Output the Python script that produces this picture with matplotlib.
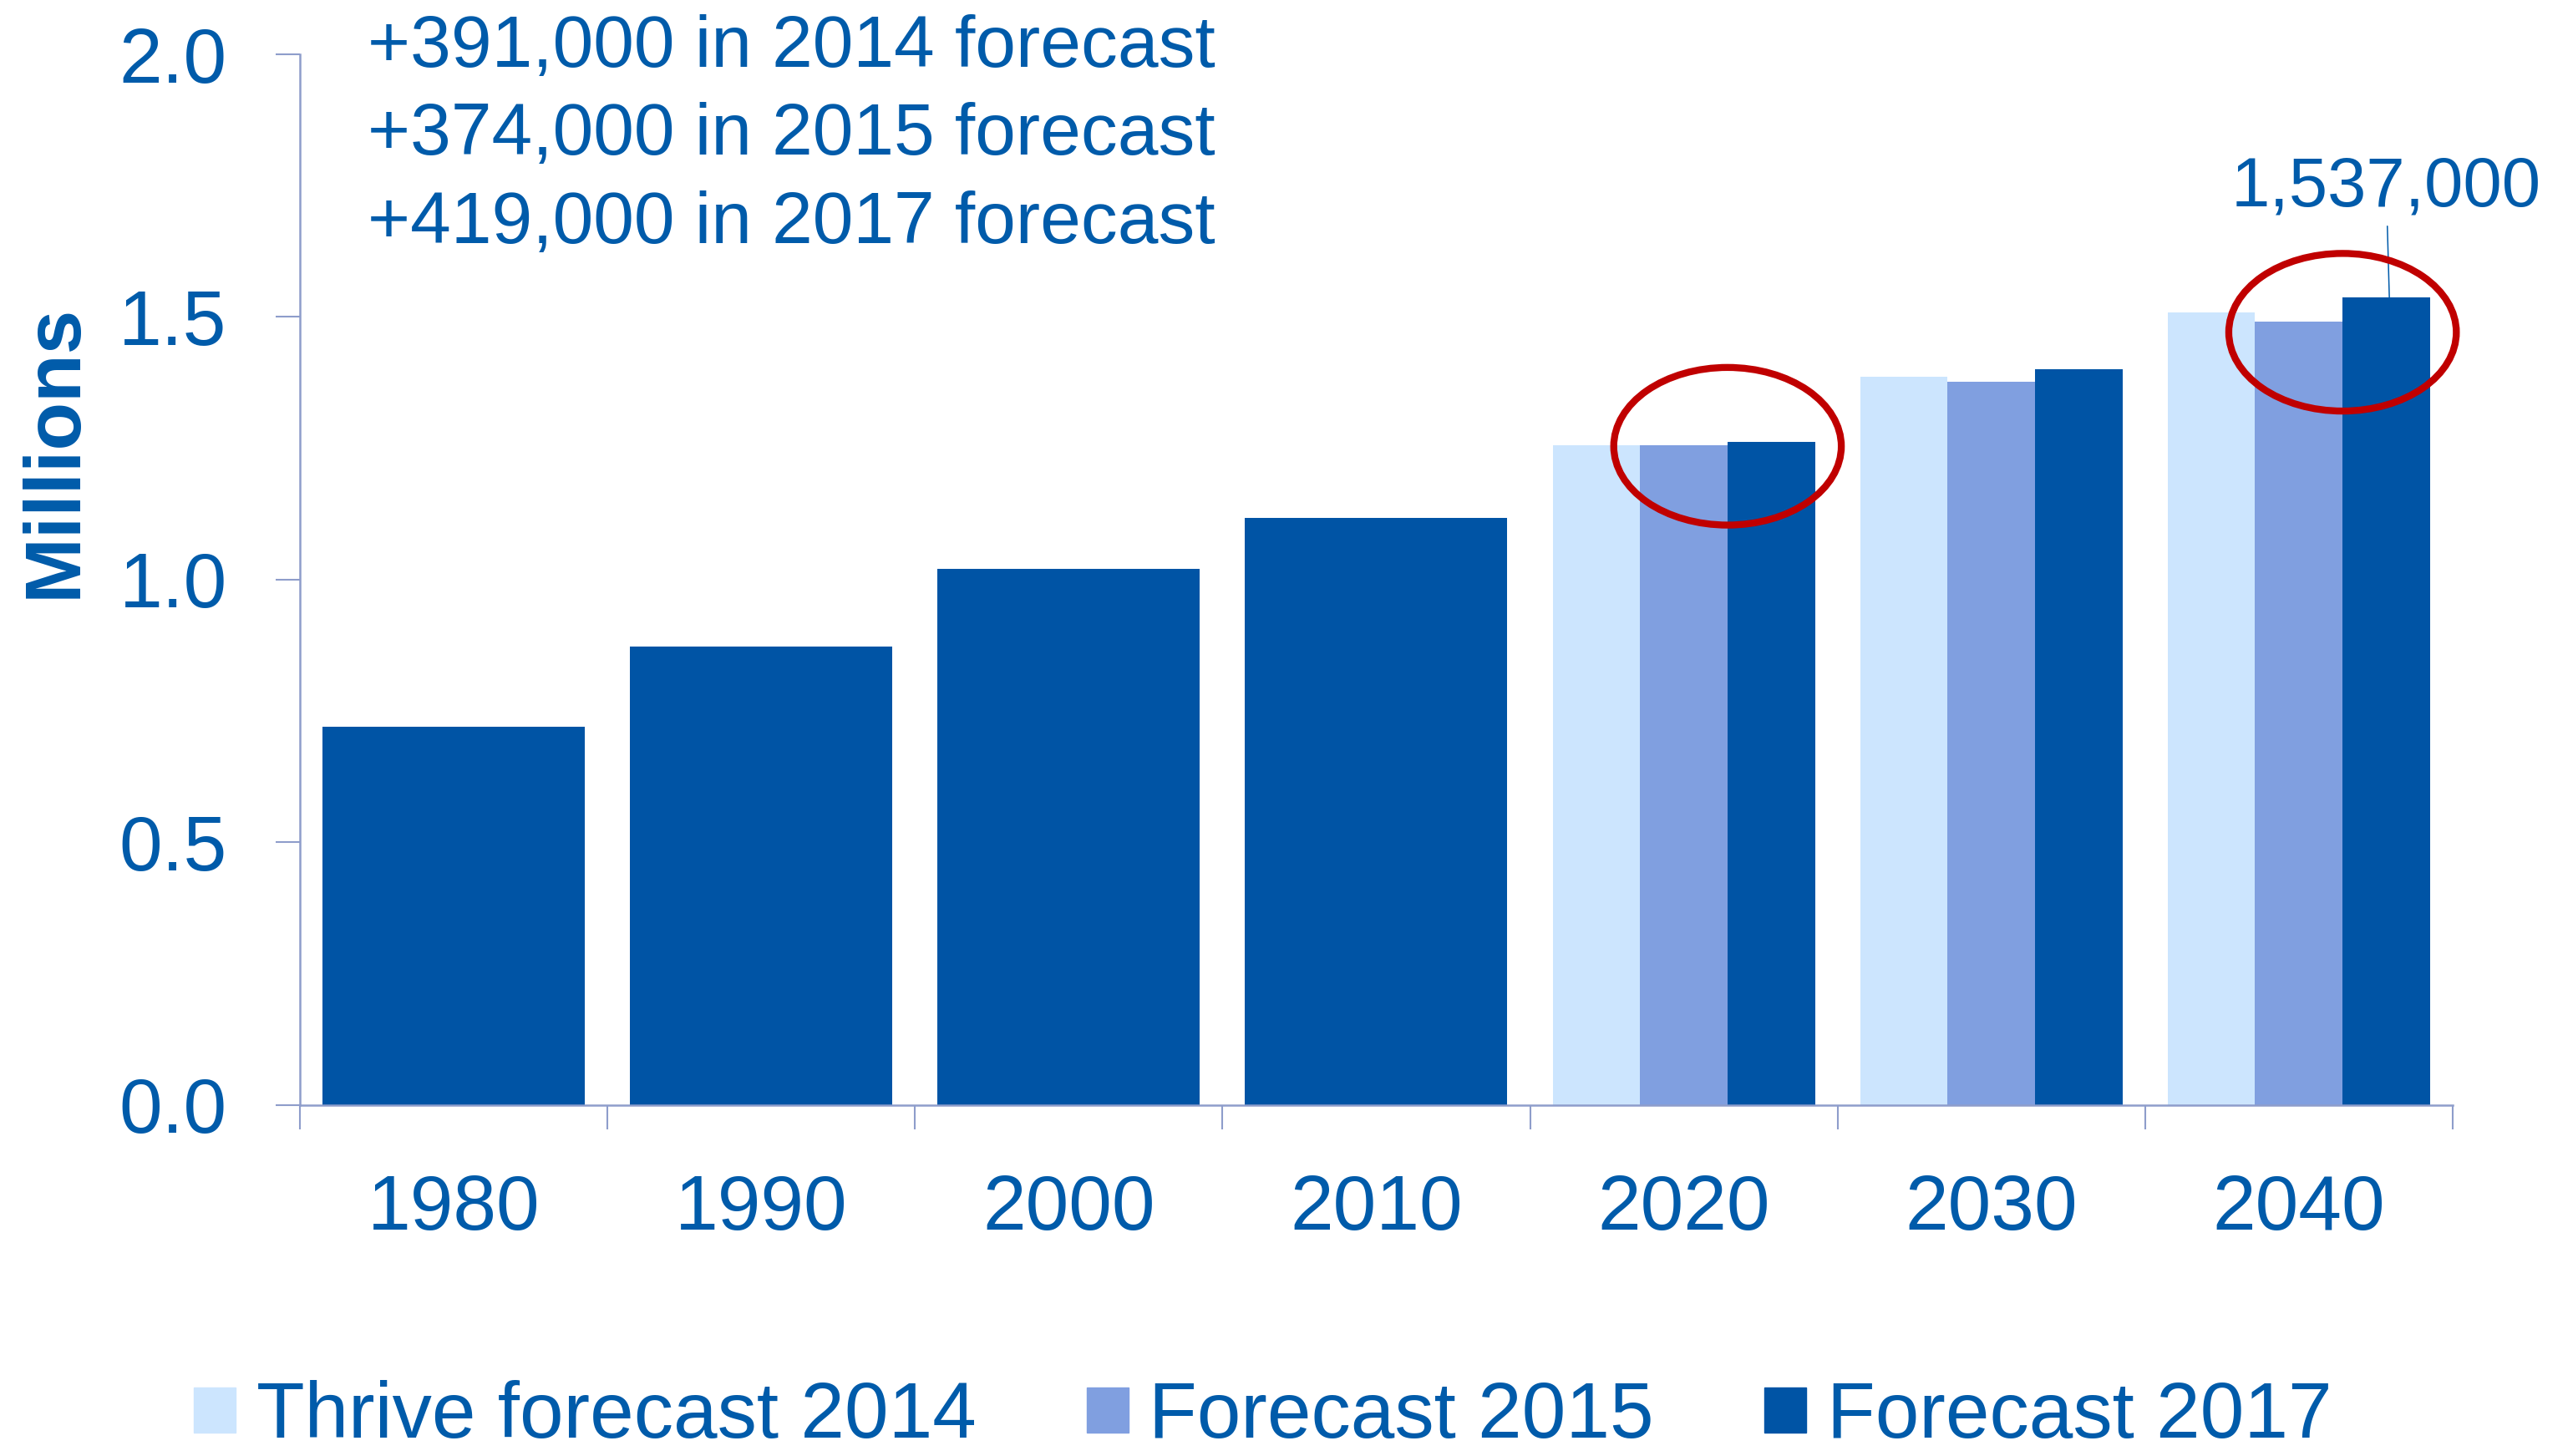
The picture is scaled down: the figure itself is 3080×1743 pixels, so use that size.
import numpy as np
import matplotlib.pyplot as plt
from matplotlib.patches import Ellipse, Patch

plt.rcParams['font.family'] = ['Liberation Sans', 'DejaVu Sans']

# data (millions)
hist_years = ['1980', '1990', '2000', '2010']
hist_values = [0.720, 0.873, 1.021, 1.118]

fc_years = ['2020', '2030', '2040']
thrive_2014 = [1.256, 1.386, 1.509]
forecast_2015 = [1.256, 1.377, 1.492]
forecast_2017 = [1.262, 1.401, 1.537]

series_names = ['Thrive forecast 2014', 'Forecast 2015', 'Forecast 2017']
growth = [391000, 374000, 419000]
growth_vintage = [2014, 2015, 2017]

yticks = [0.0, 0.5, 1.0, 1.5, 2.0]

light = '#CCE5FE'
mid = '#809FE0'
dark = '#0054A5'
txt = '#005BAA'
axcol = '#8E9DCB'
red = '#C00000'

fig = plt.figure(figsize=(30.8, 17.43), dpi=100)
ax = fig.add_axes([0.1166, 0.241, 0.8366, 0.7217])

years = hist_years + fc_years
x_hist = np.arange(len(hist_years))
x_fc = np.arange(len(hist_years), len(years))
full_w = 0.853
sub_w = full_w / 3

ax.bar(x_hist, hist_values, width=full_w, color=dark)
ax.bar(x_fc - sub_w, thrive_2014, width=sub_w, color=light)
ax.bar(x_fc, forecast_2015, width=sub_w, color=mid)
ax.bar(x_fc + sub_w, forecast_2017, width=sub_w, color=dark)

ax.set_xlim(-0.5, len(years) - 0.5)
ax.set_ylim(0, 2.0)

for s in ['top', 'right']:
    ax.spines[s].set_visible(False)
for s in ['left', 'bottom']:
    ax.spines[s].set_color(axcol)
    ax.spines[s].set_linewidth(1.8)

ax.set_yticks(yticks)
ax.set_yticklabels([f'{v:.1f}' for v in yticks])
ax.tick_params(axis='y', colors=axcol, labelcolor=txt, labelsize=67,
               length=21, width=1.5, pad=42)

ax.set_xticks(np.arange(len(years)))
ax.set_xticklabels(years)
ax.set_xticks(np.arange(len(years) + 1) - 0.5, minor=True)
ax.tick_params(axis='x', which='major', length=0, labelcolor=txt,
               labelsize=67, pad=59)
ax.tick_params(axis='x', which='minor', length=21, width=1.5, colors=axcol)

fig.text(66 / 3080, 1 - 540 / 1743, 'Millions', rotation=90, color=txt,
         fontsize=68, fontweight='bold', ha='center', va='center')

# growth notes top left
for i, (g, v) in enumerate(zip(growth, growth_vintage)):
    fig.text(440 / 3080, 1 - (80 + 105.5 * i) / 1743,
             f'+{g:,} in {v} forecast', color=txt, fontsize=63,
             ha='left', va='baseline')

# label on the 2040 forecast bar
top = forecast_2017[-1]
ax.annotate(f'{round(top * 1e6):,}', xy=(x_fc[-1] + sub_w + 0.01, top),
            xytext=(x_fc[-1] + sub_w, 1.711), textcoords='data',
            ha='center', va='baseline', color=txt, fontsize=60,
            arrowprops=dict(arrowstyle='-', color=txt, lw=1.1,
                            shrinkA=3, shrinkB=0),
            annotation_clip=False)

# red circles around 2020 and 2040
ell_y = [1.254, 1.471]
for xi, yc in zip([x_fc[0], x_fc[-1]], ell_y):
    e = Ellipse((xi + sub_w / 2, yc), width=0.74, height=0.30, fill=False,
                edgecolor=red, lw=6, clip_on=False, zorder=5)
    ax.add_patch(e)

handles = [Patch(color=c) for c in [light, mid, dark]]
fig.legend(handles, series_names, loc='lower left',
           bbox_to_anchor=(0.0753, 0.001), ncol=3, frameon=False,
           fontsize=68, labelcolor=txt, handlelength=0.53, handleheight=0.5,
           handletextpad=0.26, columnspacing=1.4, borderpad=0,
           borderaxespad=0)

fig.savefig('out.png', dpi=100)
